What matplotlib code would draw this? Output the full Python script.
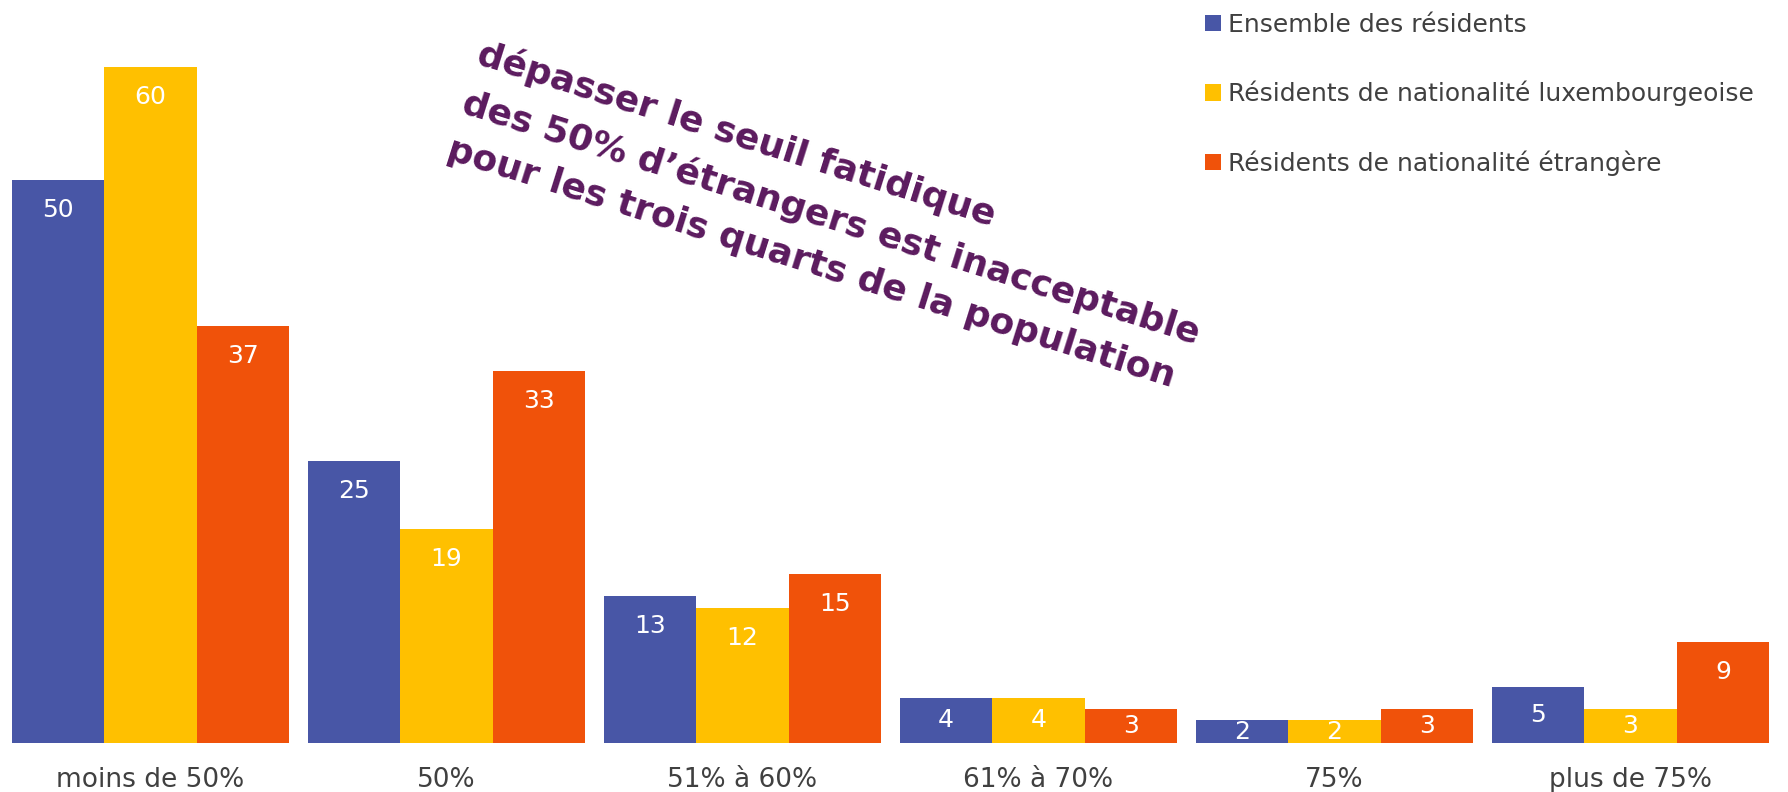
import matplotlib.pyplot as plt
import numpy as np

categories = ["moins de 50%", "50%", "51% à 60%", "61% à 70%", "75%", "plus de 75%"]
series_names = ["Ensemble des résidents",
                "Résidents de nationalité luxembourgeoise",
                "Résidents de nationalité étrangère"]
ensemble = [50, 25, 13, 4, 2, 5]
luxembourgeois = [60, 19, 12, 4, 2, 3]
etrangers = [37, 33, 15, 3, 3, 9]
colors = ["#4856A6", "#FFC000", "#F0520A"]

annotation = "dépasser le seuil fatidique\ndes 50% d’étrangers est inacceptable\npour les trois quarts de la population"

plt.rcParams["font.family"] = ["DejaVu Sans"]

fig = plt.figure(figsize=(17.88, 7.92), dpi=100)
ax = fig.add_axes([0, 49 / 792, 1, 743 / 792])

x = np.arange(len(categories))
w = 0.312
# px per unit ~11.27, label sits ~30px under bar top or centred for small bars
off = 30 / 11.27

for i, (vals, name) in enumerate(zip([ensemble, luxembourgeois, etrangers], series_names)):
    pos = x + (i - 1) * w
    ax.bar(pos, vals, width=w, color=colors[i], label=name)
    for p, v in zip(pos, vals):
        ax.text(p, max(v - off, v / 2), str(v), ha="center", va="center",
                color="white", fontsize=18)

ax.set_xlim(-0.508, 5.532)
ax.set_ylim(0, 65.93)
ax.set_xticks(x)
ax.set_xticklabels(categories, fontsize=19, color="#404040")
ax.tick_params(axis="x", length=0, pad=17)
ax.set_yticks([])
for s in ax.spines.values():
    s.set_visible(False)

ax.legend(loc="upper left", bbox_to_anchor=(1205 / 1788, 1 - 13 / 792),
          bbox_transform=fig.transFigure, frameon=False, fontsize=18,
          labelspacing=1.75, handlelength=0.62, handleheight=0.62,
          handletextpad=0.3, borderpad=0, borderaxespad=0,
          labelcolor="#404040")

fig.text(484 / 1788, 1 - 36 / 792, annotation, rotation=-17.5,
         rotation_mode="anchor", ha="left", va="top", multialignment="left",
         fontsize=26, fontweight="bold", color="#5B1A5E", linespacing=1.55)

fig.savefig("out.png", dpi=100)
